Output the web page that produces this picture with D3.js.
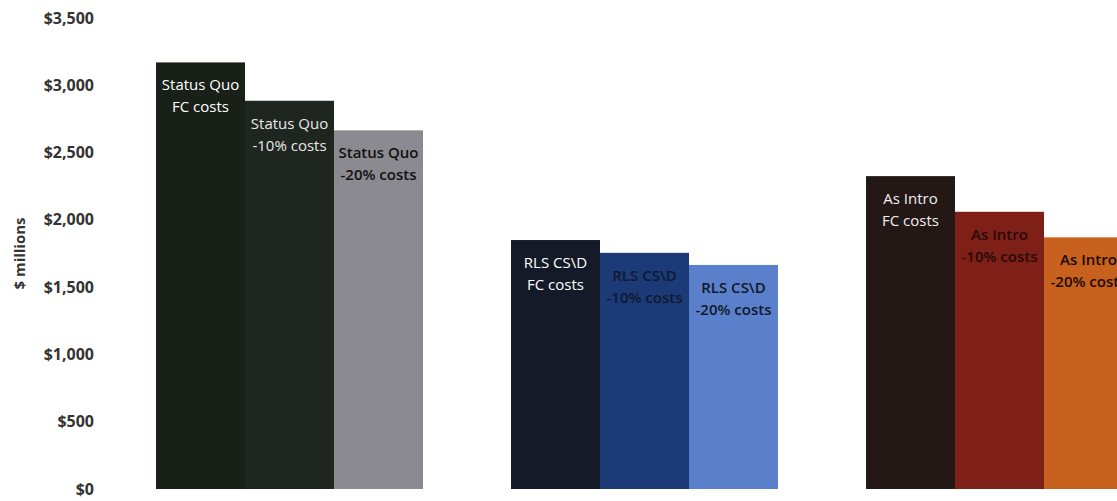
<!DOCTYPE html>
<html>
<head>
<meta charset="utf-8">
<script src="https://cdn.jsdelivr.net/npm/d3@7"></script>
<style>
  body { margin: 0; background: #fff; }
  text { font-family: "Open Sans", "Liberation Sans", sans-serif; }
</style>
</head>
<body>
<svg width="1117" height="501"></svg>
<script>
var groups = ['Status Quo', 'RLS CS\\D', 'As Intro'];
var scenarios = ['FC costs', '-10% costs', '-20% costs'];
var statusQuoValues = [3170, 2885, 2665];
var rlsValues = [1850, 1755, 1665];
var asIntroValues = [2325, 2060, 1870];
var yTicks = [0, 500, 1000, 1500, 2000, 2500, 3000, 3500];

var barColors = [
    ['#182018', '#1f2620', '#8a8a90'],
    ['#141a28', '#1c3a78', '#5a80cc'],
    ['#231816', '#7e2018', '#c8601e']
];
var labelColors = [
    ['#ffffff', '#e8e8e8', '#111111'],
    ['#ffffff', '#0e1a30', '#101828'],
    ['#f0f0f0', '#2a0a06', '#1a0c04']
];

var seriesValues = [statusQuoValues, rlsValues, asIntroValues];

var svg = d3.select('svg');
var padding = {t: 18, b: 12};
var svgHeight = +svg.attr('height');

var yScale = d3.scaleLinear()
    .domain([0, 3500])
    .range([svgHeight - padding.b, padding.t]);

var xGroup = d3.scaleBand()
    .domain(groups)
    .range([112, 1177])
    .paddingInner(0.248)
    .paddingOuter(0.124);

var xBar = d3.scaleBand()
    .domain(scenarios)
    .range([0, xGroup.bandwidth()]);

// y axis, labels only
var yAxis = svg.append('g')
    .attr('transform', 'translate(100,0)')
    .call(d3.axisLeft(yScale).tickValues(yTicks).tickSize(0).tickPadding(6)
        .tickFormat(d => '$' + d3.format(',')(d)));
yAxis.select('.domain').remove();
yAxis.selectAll('text')
    .style('font-size', '16px')
    .style('font-weight', 'bold')
    .style('fill', '#333');

svg.append('text')
    .attr('transform', 'translate(25,' + yScale(1750) + ') rotate(-90)')
    .attr('text-anchor', 'middle')
    .style('font-size', '15px')
    .style('font-weight', 'bold')
    .style('fill', '#333')
    .text('$ millions');

var barData = [];
groups.forEach(function(g, gi) {
    scenarios.forEach(function(s, si) {
        barData.push({group: g, scenario: s, value: seriesValues[gi][si],
            fill: barColors[gi][si], textFill: labelColors[gi][si], dark: si > 0 && gi > 0 || (gi == 0 && si == 2)});
    });
});

var bars = svg.selectAll('.bar')
    .data(barData)
    .join('g')
    .attr('class', 'bar')
    .attr('transform', d => 'translate(' + (xGroup(d.group) + xBar(d.scenario)) + ',0)');

bars.append('rect')
    .attr('x', 0)
    .attr('y', d => yScale(d.value))
    .attr('width', xBar.bandwidth())
    .attr('height', d => yScale(0) - yScale(d.value))
    .style('fill', d => d.fill);

bars.append('text')
    .attr('x', xBar.bandwidth() / 2)
    .attr('y', d => yScale(d.value) + 28)
    .attr('text-anchor', 'middle')
    .style('font-size', '15px')
    .style('font-weight', d => d.dark ? 600 : 400)
    .style('fill', d => d.textFill)
    .text(d => d.group);

bars.append('text')
    .attr('x', xBar.bandwidth() / 2)
    .attr('y', d => yScale(d.value) + 50)
    .attr('text-anchor', 'middle')
    .style('font-size', '15px')
    .style('font-weight', d => d.dark ? 600 : 400)
    .style('fill', d => d.textFill)
    .text(d => d.scenario);
</script>
</body>
</html>
